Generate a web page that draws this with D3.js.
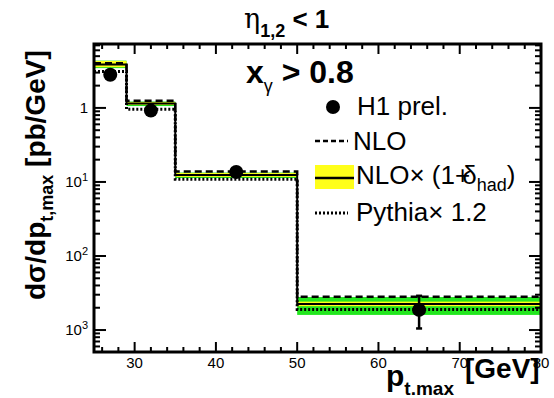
<!DOCTYPE html>
<html><head><meta charset="utf-8">
<script src="https://cdn.jsdelivr.net/npm/d3@7"></script>
<style>body{margin:0;background:#fff}svg{display:block}text{font-family:"Liberation Sans",Arial,Helvetica,sans-serif}</style>
</head><body><svg id="c" width="554" height="398"></svg>
<script>
const binEdges = [25, 29, 35, 50, 80];
const dataX = [27, 32, 42.5, 65];
const dataY = [2.8, 0.92, 0.136, 1.87e-3];
const dataErrLo = [2.55, 0.86, 0.127, 1.05e-3];
const dataErrHi = [3.05, 0.98, 0.146, 2.9e-3];
const nlo = [4.0, 1.25, 0.138, 2.82e-3];
const nloHad = [3.85, 1.15, 0.124, 2.24e-3];
const yellowLo = [3.55, 1.1, 0.117, 2.1e-3];
const yellowHi = [4.3, 1.2, 0.132, 2.42e-3];
const greenLo = [3.45, 1.06, 0.113, 1.6e-3];
const greenHi = [4.35, 1.22, 0.134, 2.79e-3];
const pythia = [3.1, 0.96, 0.109, 1.9e-3];
const xTickLabels = [30, 40, 50, 60, 70, 80];
const yTickLabels = [["1",""],["10","1"],["10","2"],["10","3"]];
const yTickVals = [1, 0.1, 0.01, 0.001];

const svg = d3.select("#c");
const L=94, R=541, T=44, B=352;
const x = d3.scaleLinear().domain([25,80]).range([L,R]);
const y = d3.scaleLog().domain([5.05e-4, 7.3]).range([B,T]);

const nb = binEdges.length-1;
const bins = d3.range(nb);
// bands
svg.append("g").selectAll("rect").data(bins).join("rect")
  .attr("x", i=>x(binEdges[i])).attr("width", i=>x(binEdges[i+1])-x(binEdges[i]))
  .attr("y", i=>y(greenHi[i])).attr("height", i=>y(greenLo[i])-y(greenHi[i]))
  .attr("fill","#22e61e");
svg.append("g").selectAll("rect").data(bins).join("rect")
  .attr("x", i=>x(binEdges[i])).attr("width", i=>x(binEdges[i+1])-x(binEdges[i]))
  .attr("y", i=>y(yellowHi[i])).attr("height", i=>y(yellowLo[i])-y(yellowHi[i]))
  .attr("fill","#ffff1a");

function stepPts(vals){
  const p=[];
  vals.forEach((v,i)=>{p.push([binEdges[i],v]);p.push([binEdges[i+1],v]);});
  return p;
}
const line = d3.line().x(d=>x(d[0])).y(d=>y(d[1]));
svg.append("path").attr("d", line(stepPts(nloHad))).attr("fill","none").attr("stroke","#000").attr("stroke-width",2);
svg.append("path").attr("d", line(stepPts(nlo))).attr("fill","none").attr("stroke","#000").attr("stroke-width",2.5).attr("stroke-dasharray","7,4");
svg.append("path").attr("d", line(stepPts(pythia))).attr("fill","none").attr("stroke","#000").attr("stroke-width",3).attr("stroke-dasharray","2,2");

// data
const dg = svg.append("g");
bins.forEach(i=>{
  dg.append("line").attr("x1",x(dataX[i])).attr("x2",x(dataX[i]))
    .attr("y1",y(dataErrLo[i])).attr("y2",y(dataErrHi[i])).attr("stroke","#000").attr("stroke-width",2.5);
  [dataErrLo[i],dataErrHi[i]].forEach(v=>dg.append("line").attr("x1",x(dataX[i])-3).attr("x2",x(dataX[i])+3)
    .attr("y1",y(v)).attr("y2",y(v)).attr("stroke","#000").attr("stroke-width",2.5));
});
dg.selectAll("circle").data(bins).join("circle")
  .attr("cx",i=>x(dataX[i])).attr("cy",i=>y(dataY[i])).attr("r",7).attr("fill","#000");

// frame
svg.append("rect").attr("x",L).attr("y",T).attr("width",R-L).attr("height",B-T)
  .attr("fill","none").attr("stroke","#000").attr("stroke-width",3);

// x ticks
const ax = svg.append("g").attr("stroke","#000").attr("stroke-width",2);
d3.range(26,80,2).forEach(v=>{
  const len = v%10===0?10:5;
  ax.append("line").attr("x1",x(v)).attr("x2",x(v)).attr("y1",B).attr("y2",B-len);
  ax.append("line").attr("x1",x(v)).attr("x2",x(v)).attr("y1",T).attr("y2",T+len);
});
// y ticks
const ymin=5.05e-4, ymax=7.3;
for(let e=-4;e<=0;e++){
  for(let m=1;m<=9;m++){
    const v=m*Math.pow(10,e);
    if(v<ymin||v>ymax) continue;
    const len = m===1?12:6;
    ax.append("line").attr("x1",L).attr("x2",L+len).attr("y1",y(v)).attr("y2",y(v));
    ax.append("line").attr("x1",R).attr("x2",R-len).attr("y1",y(v)).attr("y2",y(v));
  }
}
// tick labels
svg.append("g").selectAll("text").data(xTickLabels).join("text")
  .attr("x",d=>x(d)).attr("y",B+16).attr("text-anchor","middle")
  .attr("font-size",15).text(d=>d);
const yl = svg.append("g");
yTickLabels.forEach((lab,i)=>{
  const t = yl.append("text").attr("x",88).attr("y",y(yTickVals[i])+5).attr("text-anchor","end").attr("font-size",15);
  t.append("tspan").text(lab[0]);
  if(lab[1]) t.append("tspan").attr("dy",-6).attr("font-size",11).text(lab[1]);
});

// title
const tt = svg.append("text").attr("x",244).attr("y",28).attr("font-size",26).attr("font-weight","bold");
tt.append("tspan").attr("font-weight","normal").attr("font-family","DejaVu Serif, serif").attr("font-size",27).text("η");
tt.append("tspan").attr("dy",9).attr("font-size",18).text("1,2");
tt.append("tspan").attr("dy",-9).text(" < 1");

// x_gamma > 0.8
const xg = svg.append("text").attr("x",246).attr("y",83).attr("font-size",32).attr("font-weight","bold");
xg.append("tspan").text("x");
xg.append("tspan").attr("dy",9).attr("font-size",18).attr("font-weight","normal").text("γ");
xg.append("tspan").attr("dy",-9).text(" > 0.8");

// y title
const yt = svg.append("text").attr("transform","translate(45,300) rotate(-90)").attr("font-size",28).attr("font-weight","bold");
yt.append("tspan").text("dσ/dp");
yt.append("tspan").attr("dy",8).attr("font-size",18).text("t,max");
yt.append("tspan").attr("dy",-8).text(" [pb/GeV]");

// x title
const xt = svg.append("text").attr("x",386).attr("y",386).attr("font-size",30).attr("font-weight","bold");
xt.append("tspan").text("p");
xt.append("tspan").attr("dy",9).attr("font-size",19).text("t.max");
svg.append("text").attr("x",465).attr("y",378).attr("font-size",28).attr("font-weight","bold").text("[GeV]");

// legend
const lg = svg.append("g");
lg.append("circle").attr("cx",333).attr("cy",107).attr("r",7).attr("fill","#000");
lg.append("text").attr("x",357).attr("y",115).attr("font-size",26).text("H1 prel.");
lg.append("line").attr("x1",315).attr("x2",348).attr("y1",141).attr("y2",141).attr("stroke","#000").attr("stroke-width",2.5).attr("stroke-dasharray","5,3");
lg.append("text").attr("x",353).attr("y",150).attr("font-size",26).text("NLO");
lg.append("rect").attr("x",315).attr("y",165).attr("width",39).attr("height",24).attr("fill","#ffff1a");
lg.append("line").attr("x1",315).attr("x2",354).attr("y1",178).attr("y2",178).attr("stroke","#000").attr("stroke-width",2.5);
const nt = lg.append("text").attr("x",356).attr("y",184).attr("font-size",26);
nt.append("tspan").text("NLO× (1+");
nt.append("tspan").attr("dx",-8).text("δ");
nt.append("tspan").attr("dy",7).attr("font-size",18).text("had");
nt.append("tspan").attr("dy",-7).text(")");
lg.append("line").attr("x1",315).attr("x2",348).attr("y1",213).attr("y2",213).attr("stroke","#000").attr("stroke-width",3).attr("stroke-dasharray","2,2");
lg.append("text").attr("x",356).attr("y",221).attr("font-size",26).text("Pythia× 1.2");
</script></body></html>
